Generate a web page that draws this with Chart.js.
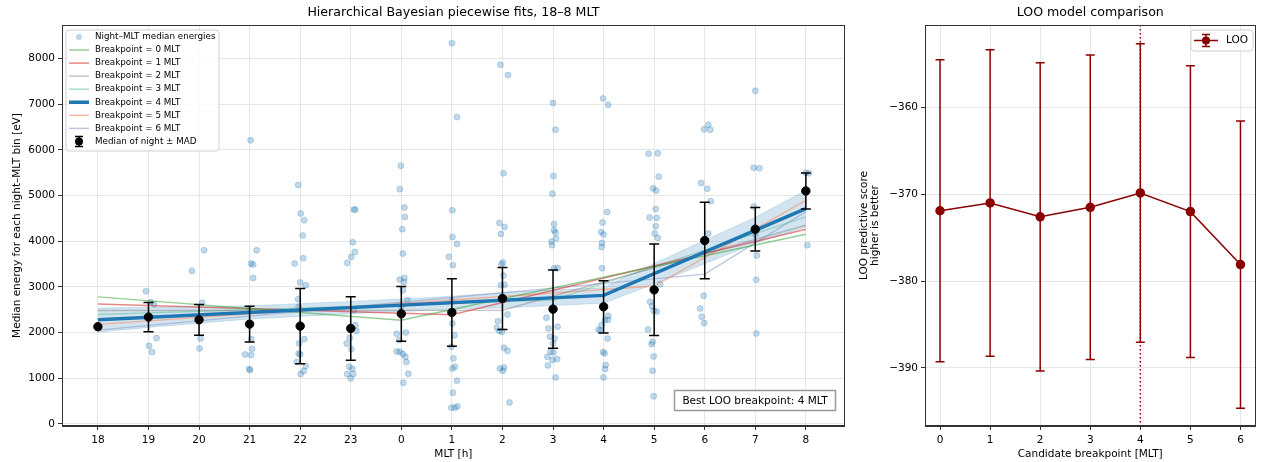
<!DOCTYPE html>
<html>
<head>
<meta charset="utf-8">
<script src="https://cdn.jsdelivr.net/npm/chart.js@4.4.1/dist/chart.umd.min.js"></script>
<style>
html, body { margin: 0; padding: 0; background: #fff; }
#wrap { position: relative; width: 1261px; height: 462px; }
canvas { position: absolute; top: 0; }
#fits { left: 0; }
#loo { left: 850px; }
</style>
</head>
<body>
<div id="wrap">
  <canvas id="fits" width="850" height="462"></canvas>
  <canvas id="loo" width="411" height="462"></canvas>
</div>
<script>
// MLT bins, evening through midnight to morning
const mltLabels = ['18', '19', '20', '21', '22', '23', '0', '1', '2', '3', '4', '5', '6', '7', '8'];
const energyTicks = [0, 1000, 2000, 3000, 4000, 5000, 6000, 7000, 8000];

// one median energy per night and MLT bin [eV], with the x jitter used in the plot
const nightEnergy = [
  [2130],
  [2907, 2667, 2623, 2332, 1880, 1712, 1574],
  [3351, 3803, 2652, 2280, 1872, 1654],
  [6208, 3803, 3512, 3490, 3198, 2520, 2180, 1858, 1647, 1523, 1508, 1202, 1180],
  [5231, 4605, 4459, 4124, 3512, 3628, 3097, 3038, 2732, 2565, 2142, 1858, 1763, 1545, 1523, 1355, 1268, 1158, 1093],
  [4692, 4692, 3978, 3767, 3657, 3526, 2492, 2164, 2033, 1887, 1763, 1639, 1253, 1209, 1093, 1093, 999],
  [5654, 5136, 4736, 4532, 4262, 3730, 3198, 3162, 3110, 2929, 2710, 2565, 2004, 1974, 1836, 1588, 1581, 1530, 1472, 1355, 1100, 903],
  [8336, 6718, 4678, 4095, 3942, 3660, 3475, 2700, 2200, 1945, 1690, 1435, 1253, 1217, 947, 685, 386, 357, 357],
  [7862, 7636, 5486, 4400, 4313, 4160, 3534, 3497, 3250, 3046, 3038, 2747, 2397, 2251, 2106, 2033, 2018, 1668, 1603, 1239, 1217, 1166, 473],
  [7024, 6441, 5428, 5042, 4371, 4240, 4189, 4058, 3993, 3912, 3410, 3410, 2514, 2324, 2128, 2091, 1909, 1872, 1763, 1581, 1567, 1472, 1421, 1399, 1282, 1020],
  [7126, 6988, 4641, 4408, 4204, 4146, 3964, 3876, 3410, 2565, 2368, 2280, 2273, 2164, 2069, 2047, 1872, 1574, 1545, 1290, 1202, 1020],
  [5924, 5917, 5413, 5158, 5107, 4707, 4517, 4510, 4328, 4167, 4073, 3060, 2936, 2674, 2579, 2477, 2462, 2069, 1800, 1748, 1479, 1166, 605],
  [6550, 6449, 6441, 5275, 5151, 4874, 4167, 4015, 2805, 2528, 2346, 2208],
  [7294, 5610, 5596, 4760, 4300, 4146, 3687, 3155, 1982],
  [5501, 5486, 5100, 3913]
];
const nightJitter = [
  [0],
  [-0.05, 0.04, 0.11, 0.0, 0.16, 0.01, 0.07],
  [-0.14, 0.10, 0.06, 0.0, 0.03, 0.01],
  [0.02, 0.14, 0.03, 0.07, 0.07, 0.0, -0.01, 0.03, 0.05, -0.09, 0.03, -0.01, 0.01],
  [-0.04, 0.01, 0.08, 0.05, -0.11, 0.06, 0.0, 0.11, -0.04, -0.03, 0.0, 0.08, -0.02, -0.03, 0.0, -0.07, 0.11, 0.07, 0.01],
  [0.06, 0.09, 0.04, 0.08, 0.01, -0.07, 0.06, 0.09, 0.11, -0.02, -0.08, 0.01, -0.03, 0.03, -0.07, 0.05, 0.0],
  [-0.01, -0.03, 0.06, 0.07, 0.02, 0.03, 0.06, -0.03, 0.05, 0.03, 0.12, 0.0, 0.09, -0.09, -0.04, -0.09, -0.03, 0.03, 0.08, 0.1, 0.14, 0.04],
  [0.0, 0.10, 0.01, 0.01, 0.10, -0.06, 0.02, 0.0, 0.01, 0.05, -0.01, 0.03, 0.06, 0.01, 0.10, 0.02, 0.11, -0.01, 0.06],
  [-0.04, 0.11, 0.02, -0.06, 0.04, -0.03, 0.01, -0.02, 0.02, 0.04, -0.03, 0.0, 0.10, -0.09, -0.11, -0.06, -0.01, 0.03, 0.10, 0.03, -0.05, 0.01, 0.14],
  [0.0, 0.05, 0.01, -0.01, 0.02, 0.02, 0.05, 0.06, -0.03, -0.02, 0.02, 0.09, 0.0, -0.13, 0.09, -0.09, -0.06, 0.03, 0.0, -0.05, 0.01, -0.11, 0.08, -0.01, -0.10, 0.05],
  [-0.01, 0.09, 0.07, -0.02, -0.05, 0.0, -0.03, -0.04, -0.03, 0.01, 0.09, 0.09, 0.03, -0.04, -0.10, -0.06, 0.08, -0.01, 0.02, 0.04, 0.03, 0.0],
  [0.07, -0.11, 0.09, -0.02, 0.04, 0.03, -0.09, 0.05, 0.03, 0.01, 0.07, 0.12, 0.0, -0.08, -0.04, -0.01, 0.05, -0.12, -0.03, -0.05, -0.01, -0.03, -0.01],
  [0.07, -0.01, 0.11, -0.07, 0.05, 0.12, 0.07, 0.0, -0.02, -0.09, -0.06, -0.01],
  [0.0, -0.03, 0.08, -0.03, 0.0, 0.0, 0.03, 0.02, 0.02],
  [0.0, 0.06, 0.0, 0.03]
];

// median of nights per bin, and MAD
const medianEnergy = [2130, 2340, 2280, 2186, 2142, 2091, 2411, 2441, 2747, 2514, 2565, 2936, 4015, 4262, 5100];
const medianMad = [0, 320, 335, 393, 824, 696, 598, 739, 680, 856, 572, 1001, 838, 478, 394];

// piecewise fits: value at 18 MLT, at the breakpoint and at 8 MLT
const breakpoints = [0, 1, 2, 3, 4, 5, 6];
const fitStart = [2783, 2625, 2485, 2395, 2280, 2180, 2055];
const fitAtBreak = [2270, 2390, 2490, 2710, 2815, 3020, 3280];
const fitEnd = [4153, 4262, 4350, 4532, 4714, 4896, 4650];
const fitColors = ['rgba(44,160,44,0.5)', 'rgba(214,39,40,0.55)', 'rgba(127,127,127,0.45)',
  'rgba(102,194,165,0.55)', '#1f77b4', 'rgba(252,141,98,0.6)', 'rgba(141,160,203,0.6)'];

// credible band of the best fit (breakpoint 4)
const bandLow = [2010, 2114, 2207, 2296, 2354, 2413, 2466, 2515, 2538, 2592, 2645, 3065, 3510, 3955, 4314];
const bandHigh = [2540, 2554, 2567, 2586, 2634, 2683, 2736, 2795, 2878, 2932, 2985, 3515, 4020, 4525, 5114];

// LOO comparison
const looBreakpoints = [0, 1, 2, 3, 4, 5, 6];
const looScore = [-371.9, -371.0, -372.6, -371.5, -369.85, -372.0, -378.1];
const looSe = [17.4, 17.65, 17.75, 17.55, 17.2, 16.8, 16.55];
const looTicks = [-360, -370, -380, -390];
const bestBreakpoint = 4;

Chart.defaults.font.family = "'DejaVu Sans', sans-serif";
Chart.defaults.font.size = 10.5;
Chart.defaults.color = '#000';

const gridColor = '#e6e6e6';

// error bars drawn just before their own dataset so the markers sit on top
const errorBars = {
  id: 'errorBars',
  beforeDatasetDraw(chart, args) {
    const ds = chart.data.datasets[args.index];
    if (!ds.err) return;
    const ctx = chart.ctx, ys = chart.scales.y, meta = args.meta;
    ctx.save();
    ctx.strokeStyle = ds.errColor;
    ctx.lineWidth = 1.5;
    ds.data.forEach((p, j) => {
      const e = ds.err[j];
      if (!e) return;
      const x = meta.data[j].x;
      const top = ys.getPixelForValue(p.y + e), bot = ys.getPixelForValue(p.y - e);
      const c = ds.cap;
      ctx.beginPath();
      ctx.moveTo(x, top); ctx.lineTo(x, bot);
      ctx.moveTo(x - c, top); ctx.lineTo(x + c, top);
      ctx.moveTo(x - c, bot); ctx.lineTo(x + c, bot);
      ctx.stroke();
    });
    ctx.restore();
  }
};

function frameAndTitle(chart, title) {
  const ctx = chart.ctx, a = chart.chartArea;
  ctx.save();
  ctx.strokeStyle = '#333';
  ctx.lineWidth = 1;
  ctx.strokeRect(Math.round(a.left) + 0.5, Math.round(a.top) + 0.5, Math.round(a.right - a.left) - 1, Math.round(a.bottom - a.top) - 1);
  ctx.fillStyle = '#000';
  ctx.font = "12.6px 'DejaVu Sans'";
  ctx.textAlign = 'center';
  ctx.textBaseline = 'middle';
  ctx.fillText(title, (a.left + a.right) / 2, 13);
  ctx.restore();
}

function roundBox(ctx, x, y, w, h, r) {
  ctx.beginPath();
  ctx.moveTo(x + r, y);
  ctx.arcTo(x + w, y, x + w, y + h, r);
  ctx.arcTo(x + w, y + h, x, y + h, r);
  ctx.arcTo(x, y + h, x, y, r);
  ctx.arcTo(x, y, x + w, y, r);
  ctx.closePath();
}

const fitsDecor = {
  id: 'fitsDecor',
  afterDraw(chart) {
    const ctx = chart.ctx;
    frameAndTitle(chart, 'Hierarchical Bayesian piecewise fits, 18–8 MLT');
    ctx.save();
    // legend
    roundBox(ctx, 66, 30, 153, 121, 3);
    ctx.fillStyle = 'rgba(255,255,255,0.8)';
    ctx.fill();
    ctx.strokeStyle = '#d0d0d0';
    ctx.lineWidth = 1;
    ctx.stroke();
    ctx.font = "8.75px 'DejaVu Sans'";
    ctx.textBaseline = 'middle';
    const rowY = i => 37 + i * 13.05;
    ctx.fillStyle = 'rgba(31,119,180,0.3)';
    ctx.beginPath(); ctx.arc(79, rowY(0), 3, 0, Math.PI * 2); ctx.fill();
    ctx.fillStyle = '#000';
    ctx.fillText('Night–MLT median energies', 95, rowY(0));
    breakpoints.forEach((bp, i) => {
      ctx.strokeStyle = fitColors[i];
      ctx.lineWidth = bp === bestBreakpoint ? 3.5 : 1.5;
      ctx.beginPath(); ctx.moveTo(69, rowY(i + 1)); ctx.lineTo(89, rowY(i + 1)); ctx.stroke();
      ctx.fillText('Breakpoint = ' + bp + ' MLT', 95, rowY(i + 1));
    });
    const yy = rowY(8);
    ctx.strokeStyle = '#000';
    ctx.lineWidth = 1.5;
    ctx.beginPath();
    ctx.moveTo(79, yy - 5); ctx.lineTo(79, yy + 5);
    ctx.moveTo(75, yy - 5); ctx.lineTo(83, yy - 5);
    ctx.moveTo(75, yy + 5); ctx.lineTo(83, yy + 5);
    ctx.stroke();
    ctx.beginPath(); ctx.arc(79, yy, 4, 0, Math.PI * 2); ctx.fill();
    ctx.fillText('Median of night ± MAD', 95, yy);
    // best breakpoint note
    ctx.fillStyle = '#fff';
    ctx.fillRect(674.5, 390.5, 161, 20);
    ctx.strokeStyle = '#999';
    ctx.strokeRect(674.5, 390.5, 161, 20);
    ctx.fillStyle = '#000';
    ctx.font = "10.5px 'DejaVu Sans'";
    ctx.textAlign = 'center';
    ctx.fillText('Best LOO breakpoint: ' + bestBreakpoint + ' MLT', 755, 401);
    ctx.restore();
  }
};

const looDecor = {
  id: 'looDecor',
  beforeDatasetsDraw(chart) {
    const ctx = chart.ctx, a = chart.chartArea;
    const x = chart.scales.x.getPixelForValue(bestBreakpoint);
    ctx.save();
    ctx.strokeStyle = '#8b0000';
    ctx.lineWidth = 1.5;
    ctx.setLineDash([1.5, 2.5]);
    ctx.beginPath(); ctx.moveTo(x, a.top); ctx.lineTo(x, a.bottom); ctx.stroke();
    ctx.restore();
  },
  afterDraw(chart) {
    const ctx = chart.ctx;
    frameAndTitle(chart, 'LOO model comparison');
    ctx.save();
    roundBox(ctx, 341, 30, 62, 21, 3);
    ctx.fillStyle = 'rgba(255,255,255,0.8)';
    ctx.fill();
    ctx.strokeStyle = '#d0d0d0';
    ctx.lineWidth = 1;
    ctx.stroke();
    const yy = 40.5;
    ctx.strokeStyle = '#8b0000';
    ctx.fillStyle = '#8b0000';
    ctx.lineWidth = 1.5;
    ctx.beginPath();
    ctx.moveTo(344, yy); ctx.lineTo(368, yy);
    ctx.moveTo(356, yy - 6); ctx.lineTo(356, yy + 6);
    ctx.moveTo(352, yy - 6); ctx.lineTo(360, yy - 6);
    ctx.moveTo(352, yy + 6); ctx.lineTo(360, yy + 6);
    ctx.stroke();
    ctx.beginPath(); ctx.arc(356, yy, 4, 0, Math.PI * 2); ctx.fill();
    ctx.fillStyle = '#000';
    ctx.font = "10.5px 'DejaVu Sans'";
    ctx.textBaseline = 'middle';
    ctx.fillText('LOO', 376, yy);
    ctx.restore();
  }
};

// datasets for the fits panel
const nightPoints = nightEnergy.flatMap((vals, i) => vals.map((v, j) => ({ x: i + nightJitter[i][j], y: v })));
const fitLines = breakpoints.map((bp, i) => ({
  type: 'line',
  label: 'Breakpoint = ' + bp + ' MLT',
  data: [
    { x: 0, y: fitStart[i] },
    { x: mltLabels.indexOf(String(bp)), y: fitAtBreak[i] },
    { x: mltLabels.length - 1, y: fitEnd[i] }
  ],
  borderColor: fitColors[i],
  borderWidth: bp === bestBreakpoint ? 3.5 : 1.4,
  pointRadius: 0,
  tension: 0,
  fill: false,
  order: bp === bestBreakpoint ? 1 : 2
}));

const fitsChart = new Chart(document.getElementById('fits'), {
  type: 'scatter',
  data: {
    datasets: [
      {
        label: 'Night–MLT median energies',
        data: nightPoints,
        backgroundColor: 'rgba(31,119,180,0.28)',
        borderColor: 'rgba(31,119,180,0.3)',
        borderWidth: 0.8,
        pointRadius: 3,
        order: 5
      },
      {
        type: 'line',
        label: 'band low',
        data: bandLow.map((v, i) => ({ x: i, y: v })),
        borderColor: 'rgba(31,119,180,0.22)',
        borderWidth: 0.8,
        pointRadius: 0,
        fill: false,
        order: 4
      },
      {
        type: 'line',
        label: 'band high',
        data: bandHigh.map((v, i) => ({ x: i, y: v })),
        borderColor: 'rgba(31,119,180,0.22)',
        backgroundColor: 'rgba(31,119,180,0.2)',
        borderWidth: 0.8,
        pointRadius: 0,
        fill: '-1',
        order: 4
      },
      ...fitLines,
      {
        label: 'Median of night ± MAD',
        data: medianEnergy.map((v, i) => ({ x: i, y: v })),
        err: medianMad,
        errColor: '#000',
        cap: 5,
        backgroundColor: '#000',
        borderColor: '#000',
        pointRadius: 4.2,
        order: 0
      }
    ]
  },
  options: {
    responsive: false,
    animation: false,
    devicePixelRatio: 1,
    layout: { padding: { top: 25, right: 3, bottom: 0, left: 0 } },
    plugins: { legend: { display: false }, tooltip: { enabled: false } },
    scales: {
      x: {
        type: 'linear',
        min: -0.71,
        max: 14.77,
        afterBuildTicks: s => { s.ticks = mltLabels.map((_, i) => ({ value: i })); },
        afterFit: s => { s.height = 36; },
        ticks: { callback: v => mltLabels[v], maxRotation: 0, autoSkip: false, padding: 4 },
        grid: { color: gridColor, tickColor: '#333', tickLength: 4 },
        border: { color: '#333' },
        title: { display: true, text: 'MLT [h]', padding: { top: 0, bottom: 1.5 } }
      },
      y: {
        min: -44,
        max: 8733,
        afterBuildTicks: s => { s.ticks = energyTicks.map(v => ({ value: v })); },
        afterFit: s => { s.width = 62; },
        ticks: { callback: v => String(v), padding: 3 },
        grid: { color: gridColor, tickColor: '#333', tickLength: 4 },
        border: { color: '#333' },
        title: { display: true, text: 'Median energy for each night–MLT bin [eV]', padding: { top: 11, bottom: 0 } }
      }
    }
  },
  plugins: [errorBars, fitsDecor]
});

const looChart = new Chart(document.getElementById('loo'), {
  type: 'line',
  data: {
    datasets: [{
      label: 'LOO',
      data: looScore.map((v, i) => ({ x: looBreakpoints[i], y: v })),
      err: looSe,
      errColor: '#8b0000',
      cap: 4.5,
      borderColor: '#8b0000',
      backgroundColor: '#8b0000',
      borderWidth: 1.5,
      pointRadius: 4,
      tension: 0
    }]
  },
  options: {
    responsive: false,
    animation: false,
    devicePixelRatio: 1,
    layout: { padding: { top: 25, right: 2, bottom: 0, left: 0 } },
    plugins: { legend: { display: false }, tooltip: { enabled: false } },
    scales: {
      x: {
        type: 'linear',
        min: -0.3,
        max: 6.3,
        afterBuildTicks: s => { s.ticks = looBreakpoints.map(v => ({ value: v })); },
        afterFit: s => { s.height = 36; },
        ticks: { maxRotation: 0, padding: 4 },
        grid: { color: gridColor, tickColor: '#333', tickLength: 4 },
        border: { color: '#333' },
        title: { display: true, text: 'Candidate breakpoint [MLT]', padding: { top: 0, bottom: 1.5 } }
      },
      y: {
        min: -396.7,
        max: -350.5,
        afterBuildTicks: s => { s.ticks = looTicks.map(v => ({ value: v })); },
        afterFit: s => { s.width = 75; },
        ticks: { callback: v => '\u2212' + Math.abs(v), padding: 3 },
        grid: { color: gridColor, tickColor: '#333', tickLength: 4 },
        border: { color: '#333' },
        title: {
          display: true,
          text: ['LOO predictive score', 'higher is better'],
          font: { lineHeight: 1.1 },
          padding: { top: 8, bottom: 0 }
        }
      }
    }
  },
  plugins: [errorBars, looDecor]
});
</script>
</body>
</html>
